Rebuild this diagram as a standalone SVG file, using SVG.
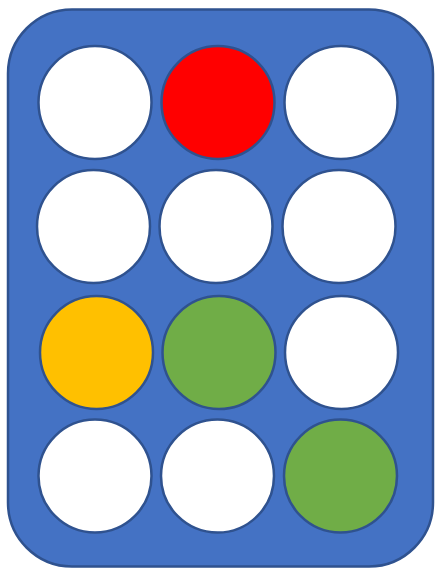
<svg xmlns="http://www.w3.org/2000/svg" width="435" height="568" viewBox="0 0 435 568">
<style>
.board{fill:#4472C4;stroke:#2F528F;stroke-width:2.5}
.c{stroke:#2F528F;stroke-width:2.5}
.w{fill:#FFFFFF}.r{fill:#FF0000}.y{fill:#FFC000}.g{fill:#70AD47}
</style>
<rect width="435" height="568" fill="#FFFFFF"/>
<g id="board"><rect class="board" x="8" y="9.5" width="425" height="557" rx="64" ry="64"/></g>
<g id="connectors"></g>
<g id="r1c1"><circle class="c w" cx="95" cy="102.5" r="56.5"/></g>
<g id="r1c2"><circle class="c r" cx="218" cy="102.5" r="56.5"/></g>
<g id="r1c3"><circle class="c w" cx="341" cy="102.5" r="56.5"/></g>
<g id="r2c1"><circle class="c w" cx="93.5" cy="226.5" r="56.5"/></g>
<g id="r2c2"><circle class="c w" cx="216" cy="226.5" r="56.5"/></g>
<g id="r2c3"><circle class="c w" cx="339" cy="226.5" r="56.5"/></g>
<g id="r3c1"><circle class="c y" cx="96.5" cy="352.5" r="56.5"/></g>
<g id="r3c2"><circle class="c g" cx="219" cy="352.5" r="56.5"/></g>
<g id="r3c3"><circle class="c w" cx="341.5" cy="352.5" r="56.5"/></g>
<g id="r4c1"><circle class="c w" cx="95" cy="476" r="56.5"/></g>
<g id="r4c2"><circle class="c w" cx="217.5" cy="476" r="56.5"/></g>
<g id="r4c3"><circle class="c g" cx="340.5" cy="476" r="56.5"/></g>
</svg>
